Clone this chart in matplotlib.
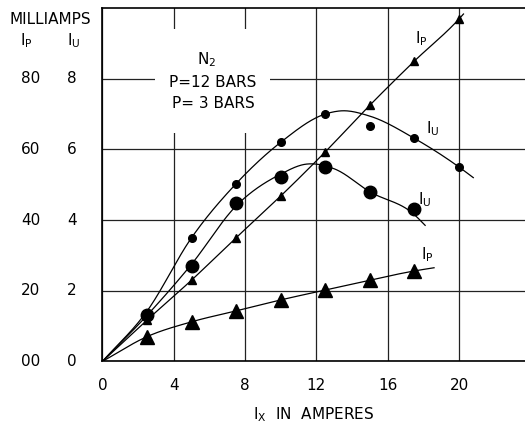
import numpy as np
import matplotlib.pyplot as plt
from matplotlib.patches import Rectangle

plt.rcParams['font.family'] = 'DejaVu Sans'
plt.rcParams['mathtext.default'] = 'regular'

# measured points, Ix in amperes
amps_12 = [2.5, 5, 7.5, 10, 12.5, 15, 17.5, 20]
ip_12 = [11.7, 23.0, 35.0, 46.8, 59.3, 72.5, 85.0, 96.9]      # mA
iu_12 = [1.31, 3.50, 5.01, 6.20, 6.99, 6.66, 6.31, 5.50]      # Iu scale

amps_3 = [2.5, 5, 7.5, 10, 12.5, 15, 17.5]
ip_3 = [7.0, 11.2, 14.3, 17.4, 20.2, 23.0, 25.6]
iu_3 = [1.31, 2.70, 4.47, 5.21, 5.49, 4.79, 4.30]

# hand-faired curves through the points
ip_12_fit_x = [0, 2.5, 5, 7.5, 10, 12.5, 15, 17.5, 20, 20.25]
ip_12_fit = [0, 11.7, 23.0, 35.0, 46.8, 59.3, 72.5, 85.0, 96.9, 98.3]
iu_12_fit_x = [0, 2.5, 5, 7.5, 10, 12.5, 13.4, 15, 17.5, 20, 20.8]
iu_12_fit = [0, 1.42, 3.50, 5.03, 6.20, 7.00, 7.09, 6.94, 6.31, 5.50, 5.20]
iu_3_fit_x = [0, 2.5, 5, 7.5, 10, 11.4, 13, 15, 17.5, 18.1]
iu_3_fit = [0, 1.30, 2.75, 4.40, 5.30, 5.58, 5.45, 4.80, 4.15, 3.85]
ip_3_fit_x = [0, 2.5, 5, 7.5, 10, 12.5, 15, 17.5, 18.6]
ip_3_fit = [0, 7.0, 11.2, 14.3, 17.4, 20.2, 23.0, 25.6, 26.5]

x_ticks = [0, 4, 8, 12, 16, 20]
ip_ticks = [0, 20, 40, 60, 80]
ip_labels = ['00', '20', '40', '60', '80']
iu_labels = ['0', '2', '4', '6', '8']
iu_scale = 10  # Ip mA per Iu unit


def fair(x, y, n=30):
    # cubic hermite through the points, slopes from np.gradient
    x = np.asarray(x, float)
    y = np.asarray(y, float)
    m = np.gradient(y, x)
    xs, ys = [], []
    t = np.linspace(0, 1, n)
    for i in range(len(x) - 1):
        h = x[i + 1] - x[i]
        h00 = 2 * t**3 - 3 * t**2 + 1
        h10 = t**3 - 2 * t**2 + t
        h01 = -2 * t**3 + 3 * t**2
        h11 = t**3 - t**2
        xs.append(x[i] + t * h)
        ys.append(h00 * y[i] + h10 * h * m[i] + h01 * y[i + 1] + h11 * h * m[i + 1])
    return np.concatenate(xs), np.concatenate(ys)


fig = plt.figure(figsize=(5.25, 4.33), dpi=100)
ax = fig.add_axes([102.4 / 525, 71.6 / 433, 422.6 / 525, 353.4 / 433])
ax.set_xlim(0, 23.7)
ax.set_ylim(0, 100)

ax.set_xticks(x_ticks)
ax.set_xticklabels([str(v) for v in x_ticks], fontsize=11)
ax.set_yticks(ip_ticks)
ax.set_yticklabels([])
ax.tick_params(length=0)
ax.tick_params(axis='x', pad=12)
ax.grid(True, color='#222222', lw=0.9)
ax.set_axisbelow(True)
for side in ['left', 'bottom', 'top']:
    ax.spines[side].set_linewidth(1.2)
ax.spines['right'].set_visible(False)

# two scales on the left: Ip and Iu
ytr = ax.get_yaxis_transform()
for v, a, b in zip(ip_ticks, ip_labels, iu_labels):
    ax.text(-0.169, v, a, transform=ytr, ha='center', va='center', fontsize=11)
    ax.text(-0.072, v, b, transform=ytr, ha='center', va='center', fontsize=11)
fig.text(50 / 525, 1 - 19 / 433, 'MILLIAMPS', ha='center', va='center', fontsize=11)
fig.text(26 / 525, 1 - 41 / 433, '$I_P$', ha='center', va='center', fontsize=11)
fig.text(74 / 525, 1 - 41 / 433, '$I_U$', ha='center', va='center', fontsize=11)

ax.set_xlabel('$I_X$  IN  AMPERES', fontsize=11, labelpad=9)

# faired lines
for fx, fy, k in [(ip_12_fit_x, ip_12_fit, 1), (iu_12_fit_x, iu_12_fit, iu_scale),
                  (iu_3_fit_x, iu_3_fit, iu_scale), (ip_3_fit_x, ip_3_fit, 1)]:
    sx, sy = fair(fx, np.asarray(fy) * k)
    ax.plot(sx, sy, color='black', lw=0.9, zorder=2)

ax.plot(amps_12, ip_12, '^', color='black', ms=6, zorder=3)
ax.plot(amps_12, np.asarray(iu_12) * iu_scale, 'o', color='black', ms=5.5, zorder=3)
ax.plot(amps_3, np.asarray(iu_3) * iu_scale, 'o', color='black', ms=9, zorder=4)
ax.plot(amps_3, ip_3, '^', color='black', ms=10, zorder=4)

# legend block
ax.add_patch(Rectangle((2.95, 64.6), 6.45, 29.4, facecolor='white', edgecolor='none', zorder=1))
ax.text(5.87, 85.3, '$N_2$', ha='center', va='center', fontsize=11, zorder=5)
ax.text(6.2, 79.0, 'P=12 BARS', ha='center', va='center', fontsize=11, zorder=5)
ax.text(6.2, 73.1, 'P= 3 BARS', ha='center', va='center', fontsize=11, zorder=5)

ax.text(17.9, 91.3, '$I_P$', ha='center', va='center', fontsize=11)
ax.text(18.5, 66.0, '$I_U$', ha='center', va='center', fontsize=11)
ax.text(18.1, 45.7, '$I_U$', ha='center', va='center', fontsize=11)
ax.text(18.2, 30.1, '$I_P$', ha='center', va='center', fontsize=11)

fig.savefig('out.png', dpi=100)
